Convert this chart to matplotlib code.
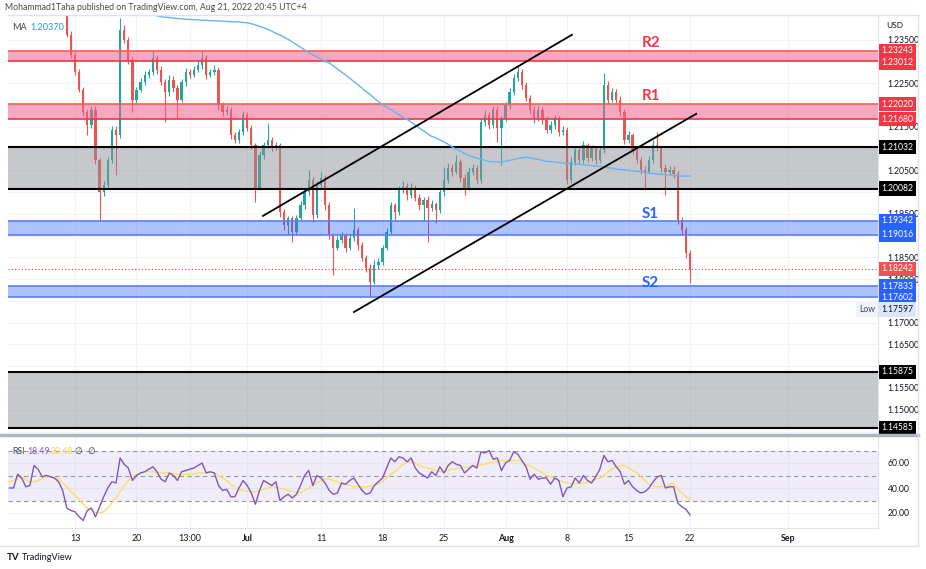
import numpy as np
import matplotlib
matplotlib.use("Agg")
import matplotlib.pyplot as plt
from matplotlib.lines import Line2D

plt.rcParams['font.family'] = ['Lato', 'DejaVu Sans']

# GBPUSD candles (one per 8h, index 0 = 10 Jun late)
first_open = 1.2440
closes = [1.2362, 1.2315, 1.2276, 1.2235, 1.2184, 1.2154, 1.2189, 1.2074, 1.2000, 1.2017,
          1.2074, 1.2143, 1.2131, 1.2373, 1.2350, 1.2304, 1.2212, 1.2235, 1.2253, 1.2270,
          1.2276, 1.2309, 1.2281, 1.2253, 1.2230, 1.2258, 1.2240, 1.2212, 1.2253, 1.2276,
          1.2270, 1.2281, 1.2292, 1.2309, 1.2270, 1.2276, 1.2281, 1.2200, 1.2184, 1.2189,
          1.2131, 1.2120, 1.2138, 1.2177, 1.2148, 1.2108, 1.2010, 1.2085, 1.2108, 1.2120,
          1.2103, 1.2108, 1.1954, 1.1924, 1.1940, 1.1908, 1.1940, 1.1970, 1.2000, 1.2028,
          1.1947, 1.2017, 1.2033, 1.1970, 1.1901, 1.1872, 1.1890, 1.1901, 1.1872, 1.1895,
          1.1913, 1.1878, 1.1849, 1.1826, 1.1794, 1.1833, 1.1840, 1.1872, 1.1908, 1.1970,
          1.1954, 1.2005, 1.2014, 1.1993, 1.2010, 1.1987, 1.1970, 1.1982, 1.1963, 1.1972,
          1.1959, 1.2000, 1.2028, 1.2056, 1.2047, 1.2070, 1.2033, 1.2010, 1.2047, 1.2056,
          1.2028, 1.2161, 1.2177, 1.2154, 1.2189, 1.2148, 1.2170, 1.2200, 1.2230, 1.2263,
          1.2276, 1.2246, 1.2217, 1.2189, 1.2170, 1.2189, 1.2166, 1.2143, 1.2154, 1.2170,
          1.2138, 1.2143, 1.2028, 1.2070, 1.2097, 1.2074, 1.2108, 1.2078, 1.2101, 1.2074,
          1.2097, 1.2247, 1.2212, 1.2230, 1.2212, 1.2184, 1.2120, 1.2131, 1.2097, 1.2074,
          1.2051, 1.2047, 1.2074, 1.2108, 1.2101, 1.2056, 1.2047, 1.2051, 1.2042, 1.1936,
          1.1913, 1.1860, 1.1824]
# wick lengths in pips above / below the body
wick_up = [20, 8, 6, 8, 6, 6, 10, 8, 5, 8,
           6, 10, 8, 28, 12, 6, 8, 6, 10, 8,
           6, 18, 6, 8, 6, 10, 8, 6, 8, 10,
           6, 8, 10, 18, 6, 8, 10, 6, 8, 10,
           6, 8, 6, 10, 8, 6, 6, 10, 8, 39,
           6, 8, 6, 8, 6, 6, 8, 10, 8, 23,
           6, 8, 14, 6, 8, 6, 10, 8, 6, 8,
           51, 6, 8, 6, 8, 10, 8, 6, 10, 8,
           6, 10, 12, 8, 10, 6, 8, 6, 8, 10,
           6, 8, 30, 10, 8, 15, 6, 8, 10, 8,
           6, 10, 12, 6, 10, 8, 6, 8, 10, 8,
           17, 6, 8, 6, 8, 10, 6, 8, 10, 8,
           6, 8, 6, 10, 8, 6, 10, 6, 8, 6,
           8, 27, 8, 10, 6, 8, 6, 10, 6, 8,
           6, 8, 10, 12, 30, 6, 8, 10, 8, 6,
           8, 6, 6]
wick_dn = [5, 6, 8, 6, 8, 23, 6, 10, 66, 10,
           8, 6, 92, 6, 8, 10, 28, 8, 6, 6,
           8, 6, 10, 6, 69, 8, 10, 42, 6, 8,
           8, 6, 6, 8, 10, 6, 8, 12, 10, 6,
           10, 6, 8, 6, 8, 10, 33, 6, 8, 6,
           8, 6, 10, 10, 23, 23, 6, 6, 8, 6,
           15, 6, 8, 10, 8, 62, 6, 8, 10, 6,
           8, 10, 8, 10, 34, 6, 10, 8, 6, 6,
           18, 6, 8, 10, 6, 8, 10, 34, 78, 6,
           30, 6, 8, 6, 10, 6, 10, 17, 6, 8,
           10, 6, 8, 10, 6, 33, 85, 6, 8, 6,
           8, 10, 8, 10, 12, 6, 10, 8, 6, 8,
           10, 6, 10, 6, 8, 10, 6, 8, 6, 10,
           6, 8, 10, 6, 8, 10, 10, 8, 10, 8,
           10, 42, 6, 8, 6, 10, 53, 6, 10, 10,
           10, 12, 33]

# moving average (blue), visible from candle 22 on
ma_start = 22
ma_vals = [1.2405, 1.2403, 1.2402, 1.2401, 1.2400, 1.2399, 1.2398, 1.2397, 1.2397, 1.2396,
           1.2396, 1.2395, 1.2395, 1.2394, 1.2394, 1.2393, 1.2393, 1.2392, 1.2392, 1.2391,
           1.2391, 1.2390, 1.2389, 1.2387, 1.2384, 1.2381, 1.2378, 1.2374, 1.2370, 1.2365,
           1.2361, 1.2356, 1.2351, 1.2345, 1.2339, 1.2333, 1.2327, 1.2321, 1.2315, 1.2311,
           1.2306, 1.2301, 1.2297, 1.2290, 1.2283, 1.2276, 1.2269, 1.2262, 1.2254, 1.2247,
           1.2239, 1.2231, 1.2224, 1.2216, 1.2208, 1.2201, 1.2195, 1.2190, 1.2184, 1.2178,
           1.2172, 1.2167, 1.2161, 1.2154, 1.2147, 1.2141, 1.2134, 1.2128, 1.2125, 1.2120,
           1.2115, 1.2110, 1.2104, 1.2098, 1.2094, 1.2089, 1.2085, 1.2081, 1.2078, 1.2076,
           1.2073, 1.2070, 1.2070, 1.2069, 1.2069, 1.2071, 1.2073, 1.2075, 1.2077, 1.2079,
           1.2080, 1.2079, 1.2077, 1.2075, 1.2073, 1.2071, 1.2070, 1.2069, 1.2068, 1.2067,
           1.2066, 1.2066, 1.2065, 1.2064, 1.2063, 1.2062, 1.2061, 1.2060, 1.2059, 1.2058,
           1.2056, 1.2055, 1.2053, 1.2052, 1.2051, 1.2050, 1.2049, 1.2048, 1.2047, 1.2046,
           1.2044, 1.2043, 1.2042, 1.2041, 1.2040, 1.2039, 1.2038, 1.2038, 1.2037, 1.2037,
           1.2037]

# RSI and its MA, starting 14 candles before index 0
rsi_start = -14
rsi_vals = [40, 40, 51, 48, 41, 42, 58, 55, 49, 50,
            49, 48, 45, 38, 24, 22, 21, 17, 14, 22,
            24, 17, 25, 33, 40, 45, 44, 64, 59, 56,
            46, 50, 52, 53, 55, 57, 53, 47, 45, 52,
            50, 46, 53, 54, 55, 56, 58, 60, 52, 53,
            52, 42, 38, 39, 33, 33, 40, 46, 42, 36,
            27, 38, 46, 44, 42, 45, 30, 33, 35, 32,
            35, 42, 50, 54, 42, 50, 48, 44, 38, 35,
            36, 44, 43, 46, 48, 43, 38, 35, 36, 42,
            45, 48, 56, 64, 61, 65, 64, 61, 64, 56,
            52, 50, 48, 53, 50, 57, 52, 58, 61, 59,
            58, 52, 55, 58, 56, 69, 68, 70, 63, 64,
            54, 60, 62, 69, 67, 62, 57, 47, 51, 47,
            48, 48, 43, 48, 46, 33, 40, 41, 48, 44,
            50, 46, 44, 49, 55, 66, 61, 62, 57, 53,
            43, 46, 41, 38, 36, 37, 40, 45, 49, 50,
            40, 41, 41, 28, 25, 23, 18.49]
rsi_ma = [45, 46, 47, 48, 47, 45, 45, 46, 48, 49,
          49, 48, 47, 44, 41, 37, 34, 31, 27, 24,
          22, 20.5, 20, 21, 24, 28, 32, 37, 42, 46,
          49, 51, 52, 53, 53, 53, 52.5, 52, 52, 52,
          51.5, 51, 51, 51, 51, 51, 52, 52, 52.5, 53,
          52, 50, 48, 46, 43, 41, 39, 38, 37.5, 37,
          37, 38, 39, 40, 41, 40.5, 40, 39, 38, 37.5,
          36.5, 36, 38, 40, 42, 44, 46, 47.5, 47, 46,
          45, 44, 43, 42, 41, 41, 41, 41, 41.5, 42,
          43, 45, 48, 51, 53, 56, 59, 61, 61, 60,
          58, 57, 56, 55, 54, 53, 53.5, 54, 55, 55.5,
          56, 56.5, 57, 57.5, 58, 58.5, 59, 60, 61, 61.5,
          62, 62, 62, 62, 62, 61, 59, 57.5, 56, 54,
          52, 50, 49, 47.5, 46, 45, 44, 43.5, 43.5, 43.5,
          44, 44.5, 45.5, 47, 48, 50, 53, 55.5, 57, 58,
          58, 56, 54, 52.5, 49, 46, 43, 41.5, 41, 41,
          41.5, 43, 44, 39, 36, 33, 30.48]

date_ticks = [2, 17, 30, 44, 62, 77, 92, 107, 122, 137, 152, 176]
date_labels = ["13", "20", "13:00", "Jul", "11", "18", "25", "Aug", "8", "15", "22", "Sep"]

# support / resistance zones
red_zones = [(1.23012, 1.23243), (1.21680, 1.22020)]
gray_zones = [(1.20082, 1.21032), (1.14585, 1.15875)]
blue_zones = [(1.19016, 1.19342), (1.17602, 1.17833)]
last_price = 1.18242
day_low = 1.17597

# channel trendlines (candle index, price)
upper_x = [47.85, 123.2]
upper_y = [1.19454, 1.23615]
lower_x = [70.05, 153.5]
lower_y = [1.17247, 1.21799]

zone_names = ["R2", "R1", "S1", "S2"]
zone_name_y = [1.2343, 1.2221, 1.1950, 1.1791]
zone_name_col = ["#f23645", "#f23645", "#2962ff", "#2962ff"]

W, H = 926, 569
fig = plt.figure(figsize=(W / 100, H / 100), dpi=100)
fig.patch.set_facecolor("white")
ax = fig.add_axes([8 / W, 1 - 433 / H, 870 / W, 418 / H])
ax2 = fig.add_axes([8 / W, 1 - 528 / H, 870 / W, 92 / H], sharex=ax)

xmin, xmax = -14.34, 197.85
ax.set_xlim(xmin, xmax)
ax.set_ylim(1.14466, 1.2407)

grid_c = "#f0f3fa"
for a in (ax, ax2):
    for s in a.spines.values():
        s.set_visible(False)
    a.spines["right"].set_visible(True)
    a.spines["right"].set_color("#e0e3eb")
    a.set_xticks(date_ticks)
    a.grid(True, color=grid_c, lw=0.8)
    a.set_axisbelow(True)
    a.yaxis.tick_right()
    a.tick_params(length=0, labelsize=6.2, labelcolor="#131722", pad=7)

ax.tick_params(axis="x", labelbottom=False)

# price scale boxes
box_prices = [1.23243, 1.23012, 1.22020, 1.21680, 1.21032, 1.20082, 1.19342,
              1.19016, last_price, 1.17833, 1.17602, day_low, 1.15875, 1.14585]
box_cols = ["#f23645", "#f23645", "#f23645", "#f23645", "black", "black", "#2962ff",
            "#2962ff", "#ef5350", "#2962ff", "#2962ff", "#dce6fb", "black", "black"]
box_y = []
prev = None
for p in box_prices:
    yd = ax.transData.transform((0, p))[1]
    if prev is not None and yd > prev - 11.5:
        yd = prev - 11.5
    prev = yd
    box_y.append(yd)

# grid ticks every 0.005; labels hidden where a box sits on them
ticks = np.arange(1.145, 1.2351, 0.005)
ax.set_yticks(ticks)
tick_txt = []
for t in ticks:
    td = ax.transData.transform((0, t))[1]
    covered = min(abs(td - b) for b in box_y) < 6
    tick_txt.append("" if covered else "%.5f" % t)
ax.set_yticklabels(tick_txt)

for p, bc, yd in zip(box_prices, box_cols, box_y):
    yp = ax.transData.inverted().transform((0, yd))[1]
    tc = "#131722" if bc == "#dce6fb" else "white"
    ax.text(1.004, yp, "%.5f" % p, transform=ax.get_yaxis_transform(), ha="left",
            va="center", fontsize=6.2, color=tc, clip_on=False, zorder=10,
            bbox=dict(boxstyle="square,pad=0.3", fc=bc, ec="none"))
    if p == day_low:
        ax.text(0.997, yp, "Low", transform=ax.get_yaxis_transform(), ha="right",
                va="center", fontsize=6.2, color="#434651", zorder=10,
                bbox=dict(boxstyle="square,pad=0.35", fc="#f0f3fa", ec="none"))

# candles
c = np.array(closes)
o = np.r_[first_open, c[:-1]]
idx = np.arange(len(c))
hi = np.maximum(o, c) + np.array(wick_up) / 10000
lo = np.minimum(o, c) - np.array(wick_dn) / 10000
cols = np.where(c >= o, "#26a69a", "#ef5350")
ax.vlines(idx, lo, hi, colors=cols, lw=0.8, zorder=3)
ax.bar(idx, np.maximum(np.abs(c - o), 0.00008), bottom=np.minimum(o, c),
       width=0.55, color=cols, linewidth=0, zorder=3)

# zones
for lo_p, hi_p in red_zones:
    ax.axhspan(lo_p, hi_p, color="#f06292", alpha=0.55, lw=0, zorder=4)
    ax.axhline(hi_p, color="#f5604f", lw=1.2, zorder=4)
    ax.axhline(lo_p, color="#f23645", lw=1.2, zorder=4)
for lo_p, hi_p in gray_zones:
    ax.axhspan(lo_p, hi_p, color="#8f9399", alpha=0.5, lw=0, zorder=4)
    ax.axhline(hi_p, color="black", lw=1.5, zorder=4)
    ax.axhline(lo_p, color="black", lw=1.5, zorder=4)
for lo_p, hi_p in blue_zones:
    ax.axhspan(lo_p, hi_p, color="#2962ff", alpha=0.38, lw=0, zorder=4)
    ax.axhline(hi_p, color="#5b7ff0", lw=1.2, zorder=4)
    ax.axhline(lo_p, color="#5b7ff0", lw=1.2, zorder=4)

ax.axhline(last_price, color="#f23645", lw=0.8, ls=(0, (1, 2)), zorder=4)

# MA and channel
ma_x = np.arange(ma_start, ma_start + len(ma_vals))
ax.plot(ma_x, ma_vals, color="#64b5f6", lw=1.0, zorder=5)
ax.plot(upper_x, upper_y, color="black", lw=1.3, zorder=6)
ax.plot(lower_x, lower_y, color="black", lw=1.3, zorder=6)

for name, yv, colr in zip(zone_names, zone_name_y, zone_name_col):
    ax.text(140.3, yv, name, color=colr, fontsize=11, fontweight="bold",
            ha="left", va="center", zorder=7)

# RSI panel
ax2.set_ylim(8, 81.6)
ax2.set_yticks([20, 40, 60])
ax2.set_yticklabels(["20.00", "40.00", "60.00"])
ax2.axhspan(30, 70, color="#7e57c2", alpha=0.1, lw=0)
for lvl in (30, 50, 70):
    ax2.axhline(lvl, color="#9598a1", lw=0.8, ls=(0, (4, 3)))
rx = np.arange(rsi_start, rsi_start + len(rsi_vals))
ax2.plot(rx, rsi_ma, color="#f5e264", lw=1.0)
ax2.plot(rx, rsi_vals, color="#7e57c2", lw=1.0)
ax2.set_xticklabels(date_labels)
ax2.tick_params(axis="x", pad=4, labelsize=6.4)
for t in ax2.get_xticklabels():
    if t.get_text() in ("Jul", "Aug", "Sep"):
        t.set_fontweight("bold")
ax2.spines["bottom"].set_visible(True)
ax2.spines["bottom"].set_color("#e0e3eb")

# frame lines
fig.add_artist(Line2D([0, 918 / W], [1 - 434.5 / H] * 2, color="#b2b5be", lw=2.5))
fig.add_artist(Line2D([0, 918 / W], [1 - 546 / H] * 2, color="#e0e3eb", lw=1))
fig.add_artist(Line2D([918 / W] * 2, [1 - 15 / H, 1 - 546 / H], color="#e0e3eb", lw=1))
fig.add_artist(Line2D([8 / W, 918 / W], [1 - 15 / H] * 2, color="#e0e3eb", lw=1))

# texts
fig.text(5 / W, 1 - 7 / H, "Mohammad1Taha published on TradingView.com, Aug 21, 2022 20:45 UTC+4",
         fontsize=6.3, color="#4a4a4a", va="center")
fig.text(12 / W, 1 - 28 / H, "MA", fontsize=6.6, color="#434651", va="center")
fig.text(30 / W, 1 - 28 / H, "1.20370", fontsize=6.6, color="#2196f3", va="center")
fig.text(886 / W, 1 - 25 / H, "USD", fontsize=6, color="#131722", va="center")
fig.text(12 / W, 1 - 451 / H, "RSI", fontsize=6.3, color="#434651", va="center")
fig.text(27 / W, 1 - 451 / H, "18.49", fontsize=6.3, color="#7e57c2", va="center")
fig.text(51 / W, 1 - 451 / H, "30.48", fontsize=6.3, color="#f2d547", va="center")
fig.text(75 / W, 1 - 451 / H, "\u2205  \u2205", fontsize=6.3, color="#434651", va="center",
         family=["DejaVu Sans"])
fig.text(7 / W, 1 - 557 / H, "TV", fontsize=7, color="#131722", fontweight="bold", va="center")
fig.text(22 / W, 1 - 557 / H, "TradingView", fontsize=6.6, color="#131722", va="center")

fig.savefig("out.png", dpi=100)
